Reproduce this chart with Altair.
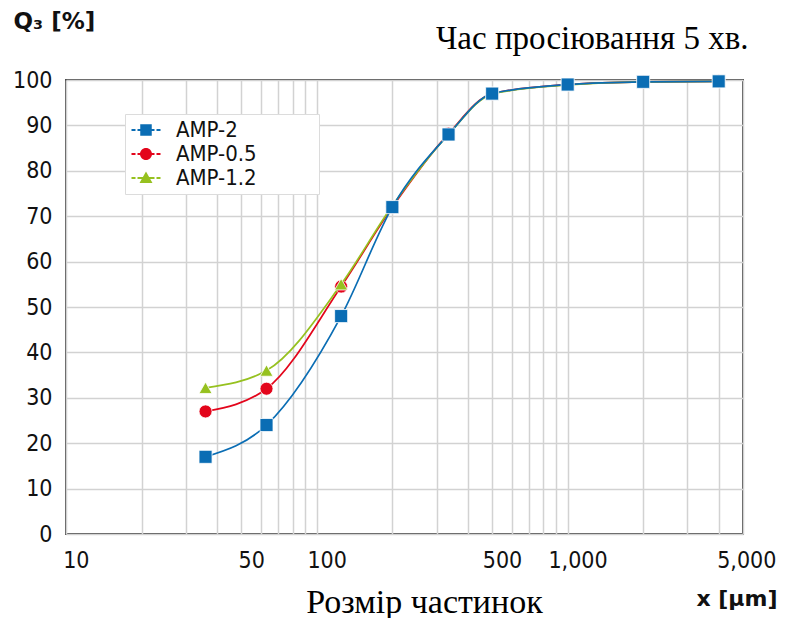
import altair as alt
import pandas as pd

# ---- data ----
sizes = [36, 63, 125, 200, 335, 500, 1000, 2000, 4000]
amp_2 = [17.0, 24.0, 48.0, 72.0, 88.0, 97.0, 99.0, 99.6, 99.7]
amp_05 = [27.0, 32.0, 54.5, 72.0, 88.2, 97.0, 99.0, 99.6, 99.7]
amp_12 = [32.2, 36.0, 55.0, 72.3, 88.0, 96.9, 98.9, 99.6, 99.7]

series_names = ["AMP-2", "AMP-0.5", "AMP-1.2"]
series_values = [amp_2, amp_05, amp_12]
series_colors = ["#0a6db4", "#e3051b", "#96c11f"]
series_shapes = ["square", "circle", "triangle-up"]
draw_order = ["AMP-0.5", "AMP-1.2", "AMP-2"]

x_grid = [10, 20, 30, 40, 50, 60, 70, 80, 90,
          100, 200, 300, 400, 500, 600, 700, 800, 900,
          1000, 2000, 3000, 4000, 5000]
x_labels = [10, 50, 100, 500, 1000, 5000]
y_ticks = [0, 10, 20, 30, 40, 50, 60, 70, 80, 90, 100]

# legend symbols: dashed line with marker in the middle (unit coordinates)
legend_paths = [
    "M-2.9,-0.2H-2.1V0.2H-2.9Z M-1.7,-0.2H-1.15V-1.15H1.15V-0.2H1.7V0.2H1.15V1.15H-1.15V0.2H-1.7Z M2.1,-0.2H2.9V0.2H2.1Z",
    "M-2.9,-0.2H-2.1V0.2H-2.9Z M-1.7,-0.2H-1.1V0.2H-1.7Z M1.1,-0.2H1.7V0.2H1.1Z M2.1,-0.2H2.9V0.2H2.1Z "
    "M-1.2,0A1.2,1.2,0,1,1,1.2,0A1.2,1.2,0,1,1,-1.2,0Z",
    "M-2.9,-0.2H-2.1V0.2H-2.9Z M-1.7,-0.2H-0.6V0.2H-1.7Z M0.6,-0.2H1.7V0.2H0.6Z M2.1,-0.2H2.9V0.2H2.1Z "
    "M0,-1.3L1.3,1.0H-1.3Z",
]

rows = []
for name, vals in zip(series_names, series_values):
    for s, v in zip(sizes, vals):
        rows.append({"series": name, "size": s, "q": v})
df = pd.DataFrame(rows)

TICK_FONT = "DejaVu Sans Condensed"
ZW = "\u200b"
NB = "\u00a0"

x_scale = alt.Scale(type="log", domain=[10, 5000], nice=False)
y_scale = alt.Scale(domain=[0, 100], nice=False)

x_axis = alt.Axis(
    values=x_grid,
    labelExpr=(
        f"indexof({x_labels}, datum.value) >= 0 ? "
        f"(datum.value >= 5000 ? '{ZW}{NB}' : '{ZW}{NB * 3}') + format(datum.value, ',') : ''"
    ),
    grid=True, gridColor="#d2d2d2", gridWidth=1.5,
    ticks=False, domain=False,
    labelFlush=False, labelOverlap=False,
    labelFont=TICK_FONT, labelFontSize=23, labelColor="#111111",
    labelPadding=15,
    title="Розмір частинок", titleFont="Liberation Serif", titleFontSize=34,
    titleFontWeight="normal", titleColor="#000000",
    titleX=358, titleY=78, titleAlign="center", titleBaseline="alphabetic",
)
y_axis = alt.Axis(
    values=y_ticks,
    grid=True, gridColor="#d2d2d2", gridWidth=1.5,
    ticks=False, domain=False,
    labelFont=TICK_FONT, labelFontSize=23, labelColor="#111111",
    labelPadding=14, labelOverlap=False, labelFlush=False,
    title="Q₃ [%]", titleAngle=0, titleX=-53, titleY=-52,
    titleAlign="left", titleBaseline="alphabetic",
    titleFont="DejaVu Sans", titleFontWeight="bold", titleFontSize=23,
    titleColor="#111111",
)
top_axis = alt.Axis(
    orient="top", labels=False, ticks=False, domain=False, grid=False,
    title="Час просіювання 5 хв.", titleFont="Liberation Serif", titleFontSize=33,
    titleFontWeight="normal", titleColor="#000000",
    titleX=682, titleY=-32, titleAlign="right", titleBaseline="alphabetic",
)
right_axis = alt.Axis(
    orient="right", labels=False, ticks=False, domain=False, grid=False,
    title="x [µm]", titleAngle=0, titleX=34, titleY=525,
    titleAlign="right", titleBaseline="alphabetic",
    titleFont="DejaVu Sans", titleFontWeight="bold", titleFontSize=22,
    titleColor="#111111",
)

legend = alt.Legend(
    title=None, orient="none", legendX=59, legendY=34, direction="vertical",
    labelFont=TICK_FONT, labelFontSize=22, labelColor="#111111",
    labelExpr=f"datum.label + '{NB * 9}{ZW}'",
    symbolSize=100, symbolOffset=5, labelOffset=19,
    symbolOpacity=1, symbolStrokeWidth=0,
    padding=5, rowPadding=2,
    fillColor="white", strokeColor="#dcdcdc",
)

base = alt.Chart(df)

legend_layer = base.mark_point(filled=True, opacity=0).encode(
    x=alt.X("size:Q", scale=x_scale, axis=top_axis),
    y=alt.Y("q:Q", scale=y_scale, axis=right_axis),
    color=alt.Color("series:N", scale=alt.Scale(domain=series_names, range=series_colors), legend=legend),
    shape=alt.Shape("series:N", scale=alt.Scale(domain=series_names, range=legend_paths), legend=legend),
)

layers = [legend_layer]
first = True
for name in draw_order:
    i = series_names.index(name)
    color = series_colors[i]
    sub = base.transform_filter(alt.datum.series == name)
    if first:
        xa, ya = x_axis, y_axis
        first = False
    else:
        xa, ya = None, None
    line = sub.mark_line(interpolate="monotone", color=color, strokeWidth=1.7).encode(
        x=alt.X("size:Q", scale=x_scale, axis=xa),
        y=alt.Y("q:Q", scale=y_scale, axis=ya),
    )
    pts = sub.mark_point(shape=series_shapes[i], filled=True, size=170, color=color,
                         stroke="white", strokeWidth=0.8, opacity=1).encode(
        x=alt.X("size:Q", scale=x_scale, axis=None),
        y=alt.Y("q:Q", scale=y_scale, axis=None),
    )
    layers += [line, pts]

chart = (
    alt.layer(*layers)
    .resolve_axis(x="independent", y="independent")
    .properties(
        width=677, height=454,
        padding={"left": 58, "top": 72, "right": 34, "bottom": 84},
        autosize=alt.AutoSizeParams(type="none"),
        background="white",
    )
    .configure_view(stroke="#4d4d4d", strokeWidth=2)
)

chart.save("out.html", embed_options={"renderer": "svg", "actions": False})
